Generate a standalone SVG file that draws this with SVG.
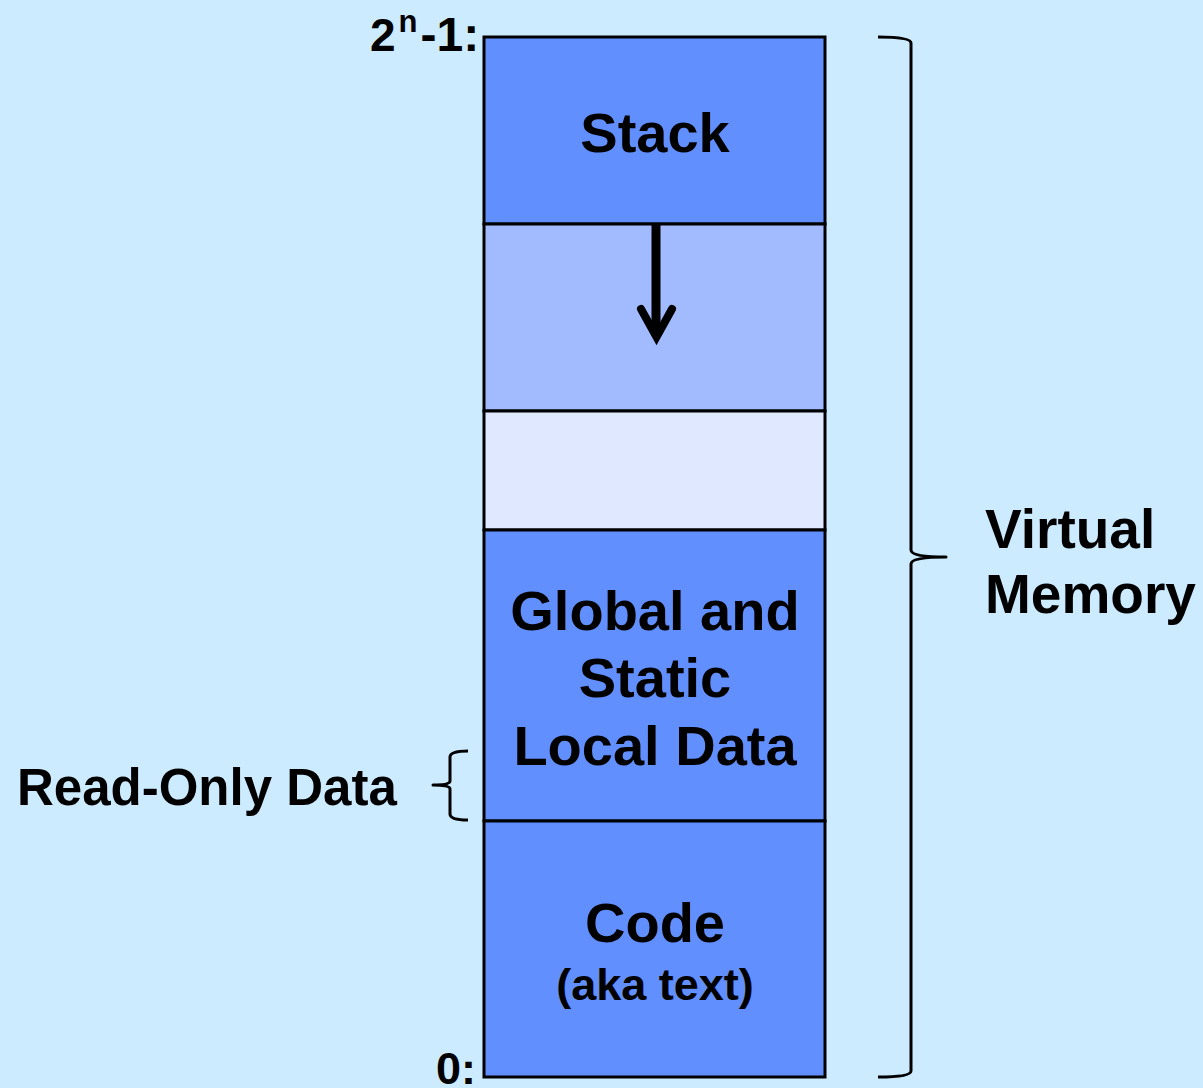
<svg xmlns="http://www.w3.org/2000/svg" width="1203" height="1088" viewBox="0 0 1203 1088">
<style>
text{font-family:"Liberation Sans",Arial,sans-serif;font-weight:bold;fill:#000}
.seg{stroke:#000;stroke-width:3}
.br{fill:none;stroke:#000;stroke-width:3;stroke-linejoin:round}
.c{text-anchor:middle}
</style>
<rect width="1203" height="1088" fill="#CCEBFF"/>
<g id="stack"><rect class="seg" x="484" y="37" width="341" height="187" fill="#628FFE"/><text class="c" x="655" y="152" font-size="56">Stack</text></g>
<g id="growth"><rect class="seg" x="484" y="224" width="341" height="187" fill="#A1BBFE"/></g>
<g id="free"><rect class="seg" x="484" y="411" width="341" height="119" fill="#DFE8FE"/></g>
<g id="global"><rect class="seg" x="484" y="530" width="341" height="291" fill="#628FFE"/><text class="c" x="655" y="630" font-size="56">Global and</text><text class="c" x="655" y="697" font-size="56">Static</text><text class="c" x="655" y="765" font-size="56">Local Data</text></g>
<g id="code"><rect class="seg" x="484" y="821" width="341" height="256" fill="#628FFE"/><text class="c" x="655" y="942" font-size="56">Code</text><text class="c" x="655" y="1000" font-size="45">(aka text)</text></g>
<g id="connectors">
<line x1="656" y1="225" x2="656" y2="335" stroke="#000" stroke-width="9"/>
<path d="M641 309 L656.5 337 L672 309" fill="none" stroke="#000" stroke-width="8" stroke-linecap="round" stroke-linejoin="miter"/>
<path class="br" d="M878 37 Q911 37 911 43 L911 550 Q911 557 946 557 Q911 557 911 564 L911 1071 Q911 1077 878 1077"/>
<path class="br" d="M468 751 Q450 751 450 757 L450 781 Q450 785 433 785 Q450 785 450 789 L450 814 Q450 820 468 820"/>
</g>
<g id="labels">
<text x="370" y="51" font-size="46">2<tspan font-size="31" dx="3" dy="-19">n</tspan><tspan font-size="48" dx="3" dy="19">-1:</tspan></text>
<text x="436" y="1084" font-size="45">0:</text>
<text x="17" y="805" font-size="51">Read-Only Data</text>
<text x="985" y="548" font-size="55">Virtual</text>
<text x="985" y="613" font-size="55">Memory</text>
</g>
</svg>
